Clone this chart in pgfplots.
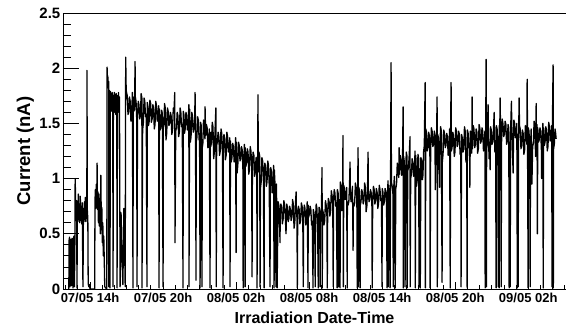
\documentclass[border=0pt]{standalone}
\usepackage{fontspec}
\setmainfont{Liberation Sans}
\usepackage{pgfplots}
\usepackage{pgfplotstable}
\pgfplotsset{compat=1.18}
\pgfplotstableread{
h v
-1.74 0.00
-1.72 0.44
-1.68 0.47
-1.64 0.02
-1.60 0.45
-1.56 0.40
-1.52 0.03
-1.48 0.46
-1.44 0.43
-1.40 0.01
-1.36 0.45
-1.32 0.48
-1.28 0.02
-1.24 0.47
-1.22 1.00
-1.18 0.78
-1.14 0.62
-1.10 0.80
-1.07 0.01
-1.04 0.76
-1.00 0.61
-0.96 0.86
-0.92 0.63
-0.88 0.77
-0.84 0.60
-0.80 0.84
-0.76 0.62
-0.72 0.75
-0.68 0.59
-0.64 0.78
-0.58 0.02
-0.54 0.73
-0.50 0.61
-0.46 0.79
-0.42 0.63
-0.38 0.83
-0.34 0.61
-0.30 0.77
-0.26 0.64
-0.25 1.98
-0.22 0.71
-0.18 0.63
-0.15 0.05
-0.10 0.02
-0.05 0.04
0.00 0.00
0.38 0.00
0.41 0.80
0.44 0.90
0.48 0.73
0.52 0.95
0.55 0.75
0.58 1.14
0.61 0.72
0.65 0.88
0.69 0.60
0.73 0.86
0.77 0.57
0.81 0.82
0.85 0.50
0.89 1.03
0.93 0.55
0.97 0.74
1.01 0.42
1.05 0.60
1.09 0.30
1.13 0.48
1.17 0.26
1.21 0.02
1.38 0.00
1.40 2.01
1.43 1.90
1.46 1.93
1.50 1.82
1.53 1.88
1.55 0.02
1.58 1.80
1.61 1.70
1.64 0.01
1.67 1.79
1.71 1.63
1.75 1.77
1.79 1.61
1.83 1.78
1.87 1.60
1.89 0.02
1.92 1.75
1.96 1.62
2.00 1.78
2.04 1.60
2.08 1.76
2.12 1.58
2.16 1.77
2.20 1.63
2.22 0.01
2.26 1.75
2.30 1.60
2.34 1.78
2.38 1.61
2.42 1.74
2.47 0.02
2.55 0.69
2.62 0.30
2.70 0.04
2.78 0.73
2.84 0.40
2.89 0.02
2.93 2.10
2.97 1.80
3.00 1.78
3.06 1.75
3.12 1.58
3.18 1.61
3.24 1.74
3.30 1.70
3.36 1.52
3.42 1.56
3.48 1.78
3.53 0.01
3.55 1.74
3.60 1.61
3.66 1.63
3.70 2.06
3.72 1.74
3.78 1.70
3.84 1.53
3.86 0.02
3.90 1.56
3.96 1.70
4.02 1.67
4.08 1.54
4.14 1.57
4.20 1.77
4.26 1.73
4.27 0.01
4.32 1.44
4.38 1.50
4.44 1.73
4.50 1.70
4.56 1.56
4.62 1.58
4.68 0.02
4.70 1.69
4.75 1.66
4.80 1.48
4.86 1.52
4.92 1.71
4.98 1.68
5.04 1.51
5.10 1.54
5.16 1.67
5.22 1.64
5.28 1.45
5.34 1.49
5.40 1.70
5.46 1.66
5.52 1.52
5.58 1.55
5.64 1.66
5.67 0.01
5.70 1.63
5.76 1.44
5.82 1.48
5.88 1.62
5.94 1.59
6.00 0.02
6.02 1.45
6.07 1.49
6.12 1.68
6.18 1.64
6.24 1.35
6.30 1.41
6.36 1.64
6.42 1.61
6.48 1.48
6.54 1.50
6.60 1.60
6.66 1.57
6.72 1.40
6.78 1.44
6.84 1.64
6.90 1.61
6.96 1.78
6.98 0.42
7.04 1.43
7.10 1.46
7.16 1.60
7.22 1.57
7.28 1.38
7.34 1.42
7.40 1.64
7.46 1.60
7.52 1.47
7.58 1.49
7.64 0.01
7.66 1.61
7.71 1.58
7.76 1.41
7.82 1.45
7.88 1.60
7.94 1.57
8.00 1.44
8.06 1.47
8.12 1.67
8.13 0.02
8.18 1.63
8.24 1.33
8.30 1.38
8.36 1.60
8.42 1.57
8.48 1.42
8.54 1.45
8.60 1.54
8.63 1.78
8.66 1.51
8.71 0.08
8.72 1.33
8.78 1.37
8.84 1.56
8.90 1.53
8.96 1.35
9.00 1.38
9.04 0.01
9.08 1.51
9.14 1.48
9.20 0.02
9.22 1.28
9.27 1.32
9.32 1.53
9.38 1.50
9.44 1.36
9.45 1.65
9.50 1.39
9.56 1.49
9.62 1.46
9.68 1.28
9.74 1.32
9.80 1.45
9.86 0.01
9.88 1.42
9.92 1.29
9.98 1.33
10.04 1.51
10.10 1.47
10.16 1.18
10.22 1.25
10.28 1.47
10.34 1.64
10.37 0.02
10.40 1.30
10.46 1.33
10.52 1.42
10.58 1.39
10.64 1.21
10.70 1.25
10.76 1.45
10.82 1.41
10.88 1.24
10.93 0.01
10.95 1.27
11.00 1.40
11.06 1.37
11.12 1.17
11.18 1.21
11.24 1.42
11.30 1.38
11.36 1.24
11.42 1.26
11.48 1.37
11.50 0.02
11.54 1.34
11.60 1.15
11.66 1.19
11.72 1.32
11.78 1.29
11.84 1.15
11.90 1.18
11.96 1.37
12.00 0.33
12.02 1.33
12.08 1.05
12.14 1.12
12.20 1.33
12.26 1.30
12.32 1.16
12.38 1.18
12.44 1.29
12.50 1.26
12.56 1.08
12.58 0.01
12.62 1.12
12.68 1.31
12.74 0.02
12.75 1.28
12.80 1.11
12.86 1.14
12.92 1.27
12.98 1.24
13.04 1.04
13.10 1.08
13.16 1.29
13.22 1.25
13.28 1.11
13.31 0.11
13.34 1.13
13.40 1.24
13.46 1.21
13.52 1.02
13.58 1.06
13.64 1.19
13.70 1.16
13.72 0.01
13.76 1.02
13.80 1.76
13.82 1.06
13.88 1.24
13.94 1.20
13.97 0.02
14.00 0.91
14.06 0.97
14.12 1.19
14.18 1.16
14.24 1.02
14.30 0.01
14.32 1.05
14.36 1.14
14.42 1.11
14.48 0.93
14.54 0.97
14.60 1.16
14.66 1.12
14.72 0.94
14.79 0.02
14.80 0.97
14.84 1.10
14.90 1.07
14.96 0.87
15.02 0.91
15.08 1.12
15.12 0.01
15.14 1.08
15.20 0.94
15.28 0.02
15.32 0.95
15.37 0.01
15.45 0.79
15.51 0.76
15.56 0.63
15.61 0.42
15.62 0.66
15.68 0.77
15.74 0.74
15.80 0.59
15.86 0.63
15.92 0.80
15.98 0.77
16.04 0.66
16.10 0.50
16.16 0.77
16.22 0.74
16.28 0.61
16.34 0.64
16.40 0.75
16.46 0.72
16.52 0.62
16.58 0.65
16.64 0.81
16.70 0.77
16.76 0.55
16.82 0.60
16.88 0.78
16.93 0.88
16.94 0.75
17.00 0.64
17.03 0.01
17.06 0.67
17.12 0.75
17.18 0.72
17.24 0.59
17.30 0.62
17.36 0.78
17.42 0.75
17.48 0.62
17.52 0.02
17.54 0.65
17.60 0.76
17.66 0.73
17.72 0.58
17.78 0.62
17.84 0.79
17.91 0.01
17.92 0.76
17.96 0.65
18.02 0.68
18.08 0.75
18.14 0.72
18.20 0.58
18.26 0.61
18.32 0.01
18.34 0.72
18.40 0.69
18.46 0.59
18.50 0.02
18.52 0.62
18.58 0.77
18.64 0.73
18.70 0.51
18.75 0.01
18.76 0.58
18.82 0.74
18.88 0.71
18.90 0.02
18.94 0.61
19.00 0.64
19.06 1.10
19.08 0.01
19.10 0.72
19.16 0.69
19.22 0.58
19.28 0.62
19.34 0.80
19.40 0.76
19.46 0.66
19.49 0.01
19.52 0.69
19.58 0.82
19.64 0.79
19.70 0.66
19.76 0.70
19.82 0.89
19.88 0.85
19.94 0.77
19.98 0.02
20.00 0.79
20.06 0.90
20.12 0.87
20.18 0.75
20.24 0.78
20.30 0.01
20.32 0.90
20.38 0.87
20.40 0.02
20.44 0.78
20.50 0.81
20.54 0.01
20.56 0.97
20.62 0.93
20.68 0.71
20.74 0.76
20.78 1.39
20.81 0.02
20.84 0.94
20.90 0.91
20.96 0.81
21.02 0.83
21.08 0.92
21.13 0.01
21.14 0.79
21.20 0.76
21.26 0.79
21.32 0.95
21.36 1.15
21.38 0.91
21.44 0.79
21.50 0.82
21.56 0.93
21.61 0.35
21.62 0.78
21.68 0.75
21.74 0.78
21.80 0.96
21.86 0.92
21.92 0.82
21.95 0.01
21.98 0.84
22.02 1.28
22.04 0.02
22.08 0.92
22.14 0.89
22.19 0.01
22.20 0.76
22.26 0.79
22.32 0.90
22.38 0.87
22.44 0.77
22.50 0.80
22.56 0.96
22.62 0.92
22.68 0.70
22.74 0.75
22.80 0.92
22.84 1.24
22.86 0.89
22.92 0.79
22.98 0.82
23.04 0.90
23.10 0.87
23.16 0.74
23.18 0.01
23.22 0.78
23.28 0.93
23.34 0.90
23.40 0.77
23.46 0.80
23.52 0.91
23.58 0.88
23.64 0.73
23.70 0.77
23.76 0.94
23.82 0.90
23.88 0.80
23.94 0.82
23.99 0.02
24.00 0.91
24.06 0.88
24.12 0.76
24.18 0.79
24.24 0.91
24.30 0.88
24.36 0.78
24.40 0.01
24.42 0.81
24.48 0.98
24.50 0.02
24.54 0.94
24.60 0.73
24.65 0.01
24.73 2.05
24.76 0.97
24.82 0.93
24.88 0.87
24.91 0.02
24.94 0.90
25.00 1.02
25.07 0.01
25.12 0.91
25.18 0.95
25.24 1.14
25.30 1.10
25.36 1.01
25.39 1.28
25.42 1.04
25.48 1.21
25.54 1.17
25.60 1.03
25.66 1.06
25.72 1.65
25.73 0.01
25.76 1.20
25.81 1.16
25.86 0.98
25.88 0.02
25.92 1.02
25.98 1.24
26.04 1.20
26.05 0.01
26.10 1.07
26.16 1.10
26.22 1.21
26.29 1.38
26.30 0.02
26.34 1.00
26.40 1.04
26.46 1.18
26.52 1.15
26.58 1.02
26.64 1.05
26.70 1.25
26.72 0.01
26.76 1.21
26.82 0.93
26.88 0.99
26.94 1.22
27.00 1.18
27.03 0.02
27.06 1.06
27.12 1.09
27.13 0.01
27.18 1.19
27.24 1.16
27.30 0.99
27.35 1.03
27.40 1.24
27.46 1.30
27.53 1.87
27.55 0.01
27.58 1.45
27.64 1.42
27.70 1.25
27.76 1.28
27.82 1.42
27.87 1.39
27.92 1.20
27.94 0.01
27.98 1.24
28.04 1.46
28.10 1.43
28.16 1.29
28.22 1.31
28.28 1.43
28.34 1.40
28.36 0.90
28.40 1.22
28.46 1.26
28.51 1.74
28.53 0.02
28.56 1.40
28.62 1.37
28.68 1.24
28.72 0.92
28.74 1.27
28.80 1.47
28.86 1.43
28.92 0.06
28.94 1.15
29.00 1.22
29.06 1.44
29.12 1.41
29.18 1.28
29.24 1.30
29.30 1.41
29.36 1.38
29.42 1.21
29.48 1.25
29.54 1.45
29.59 0.01
29.62 1.42
29.66 1.87
29.68 1.25
29.74 1.28
29.80 1.42
29.86 1.39
29.92 1.20
29.98 1.24
30.04 1.46
30.10 1.43
30.16 1.29
30.22 1.31
30.28 1.43
30.34 1.40
30.40 1.22
30.46 1.25
30.48 0.02
30.52 1.40
30.58 1.37
30.64 1.24
30.70 1.27
30.76 1.47
30.82 1.43
30.88 1.15
30.94 1.22
30.98 0.01
31.00 1.44
31.06 1.41
31.12 1.28
31.18 1.30
31.20 0.92
31.24 1.43
31.30 1.40
31.36 1.23
31.39 1.74
31.42 1.27
31.48 1.48
31.54 1.45
31.60 1.28
31.66 1.31
31.72 1.45
31.78 1.42
31.84 1.23
31.90 1.27
31.96 1.49
32.02 1.46
32.08 1.32
32.14 1.34
32.20 1.46
32.26 1.43
32.32 1.25
32.38 1.28
32.44 1.43
32.46 0.01
32.50 1.40
32.54 2.08
32.56 0.02
32.58 1.27
32.62 1.30
32.66 1.50
32.70 1.67
32.72 1.46
32.78 1.18
32.84 1.24
32.87 1.08
32.90 1.47
32.96 1.44
33.02 1.31
33.08 1.33
33.14 1.44
33.20 1.60
33.22 1.41
33.26 1.24
33.32 1.28
33.36 0.01
33.38 1.48
33.44 1.45
33.50 1.30
33.54 0.02
33.57 1.38
33.61 0.01
33.62 1.48
33.66 1.45
33.69 1.73
33.74 1.27
33.78 0.02
33.80 1.30
33.86 1.54
33.92 1.50
33.98 1.38
34.04 1.40
34.10 1.52
34.16 1.49
34.22 1.31
34.28 1.34
34.34 1.49
34.40 1.46
34.43 0.01
34.46 1.33
34.52 0.02
34.54 1.36
34.58 1.56
34.62 1.70
34.64 1.52
34.70 1.24
34.76 1.05
34.78 1.30
34.82 1.53
34.88 1.50
34.94 1.37
35.00 1.39
35.06 1.50
35.10 0.01
35.14 1.28
35.17 0.02
35.20 1.32
35.25 1.73
35.28 1.48
35.34 1.45
35.40 1.27
35.46 1.30
35.52 1.44
35.58 1.41
35.64 1.22
35.70 1.26
35.76 1.48
35.82 1.45
35.88 1.31
35.91 1.90
35.94 1.34
35.99 0.01
36.00 1.46
36.06 1.43
36.12 1.26
36.16 0.02
36.18 1.29
36.24 1.45
36.30 0.95
36.36 1.29
36.42 1.32
36.48 1.52
36.54 1.48
36.60 1.20
36.65 1.68
36.67 1.27
36.72 1.49
36.75 0.50
36.78 1.46
36.84 1.33
36.90 1.35
36.96 1.46
37.02 1.43
37.08 1.26
37.10 1.00
37.14 1.29
37.20 1.50
37.23 0.01
37.26 1.46
37.32 1.30
37.38 1.33
37.44 1.47
37.50 1.44
37.56 1.25
37.62 1.29
37.68 1.51
37.74 1.47
37.80 1.34
37.86 1.36
37.92 1.48
37.96 0.02
37.98 1.44
38.04 2.03
38.06 0.01
38.08 1.27
38.14 1.31
38.20 1.45
38.25 1.41
38.29 1.36
}\currentdata
\begin{document}
\begin{tikzpicture}
\begin{axis}[
  scale only axis,
  width=503pt, height=276pt,
  xmin=-2.22, xmax=39.1,
  ymin=0, ymax=2.5,
  axis line style={line width=0.8pt},
  tick align=inside,
  xtick pos=bottom, ytick pos=left,
  xtick={0,6,12,18,24,30,36},
  xticklabels={07/05 14h,07/05 20h,08/05 02h,08/05 08h,08/05 14h,08/05 20h,09/05 02h},
  minor xtick={-2,-1,1,2,3,4,5,7,8,9,10,11,13,14,15,16,17,19,20,21,22,23,25,26,27,28,29,31,32,33,34,35,37,38,39},
  ytick={0,0.5,1,1.5,2,2.5},
  minor y tick num=4,
  tick style={black, line width=0.8pt},
  xtick style={/pgfplots/major tick length=7pt, /pgfplots/minor tick length=3.5pt},
  ytick style={/pgfplots/major tick length=15.5pt, /pgfplots/minor tick length=8pt},
  /pgf/number format/assume math mode=true,
  yticklabel style={font=\bfseries\fontsize{15}{17}\selectfont, anchor=east, inner sep=0pt, xshift=-2.5pt},
  xticklabel style={font=\bfseries\fontsize{13}{15}\selectfont, anchor=north, inner sep=0pt, yshift=-4pt},
  xlabel={Irradiation Date-Time},
  xlabel style={at={(axis description cs:0.5,-0.1268)}, anchor=base, inner sep=0pt, font=\bfseries\fontsize{16}{19}\selectfont},
  ylabel={Current (nA)},
  ylabel style={at={(axis description cs:-0.0656,0.5)}, anchor=base, inner sep=0pt, font=\bfseries\fontsize{18.5}{21}\selectfont},
]
\addplot[black, line width=1.3pt, line join=round] table[x=h, y=v] {\currentdata};
\end{axis}
\pgfresetboundingbox
\path[use as bounding box] ([xshift=-63pt,yshift=-45pt]current axis.south west) rectangle ([yshift=13pt]current axis.north east);
\end{tikzpicture}
\end{document}
